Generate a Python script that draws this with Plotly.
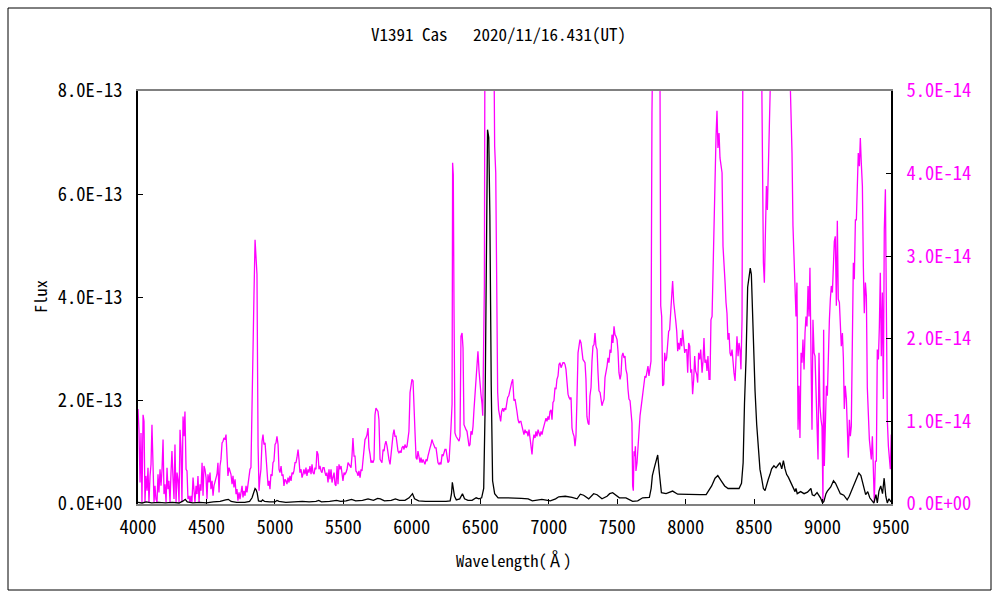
import plotly.graph_objects as go

# ---------------- data ----------------
# Magenta spectrum (right axis), wavelength in Angstrom, flux in units of 1e-14
wl_mag = [
    4000,4007,4015,4022,4029,4037,4044,4051,4058,4066,
    4073,4080,4088,4095,4102,4110,4117,4124,4131,4139,
    4146,4153,4161,4168,4175,4183,4190,4197,4205,4212,
    4219,4226,4234,4241,4248,4256,4263,4270,4278,4285,
    4292,4300,4307,4314,4321,4329,4336,4343,4351,4358,
    4365,4373,4380,4387,4394,4402,4409,4416,4424,4431,
    4438,4446,4453,4460,4468,4475,4482,4489,4497,4504,
    4511,4519,4526,4533,4541,4548,4555,4562,4570,4577,
    4584,4592,4599,4606,4614,4621,4628,4636,4643,4650,
    4657,4665,4672,
    4679,4687,4694,4701,4709,4716,4723,4730,4738,4745,
    4752,4760,4767,4774,4782,4789,4796,4803,4811,4818,
    4825,4833,4840,4847,4855,4862,4869,4877,4884,4891,
    4898,4906,4913,4920,4928,4935,4942,4950,4957,4964,
    4971,4979,4986,4993,5001,5008,5015,5023,5030,5037,
    5045,5052,5059,5066,5074,5081,5088,5096,5103,5110,
    5118,5125,5132,5139,5147,5154,5161,5169,5176,5183,
    5191,5198,5205,5212,5220,5227,5234,5242,5249,5256,
    5264,5271,5278,5286,5293,5300,5307,5315,5322,5329,
    5337,5344,5351,5359,
    5366,5373,5380,5388,5395,5402,5410,5417,5424,5432,
    5439,5446,5454,5461,5468,5475,5483,5490,5497,5505,
    5512,5519,5527,5534,5541,5549,5556,5563,5570,5578,
    5585,5592,5600,5607,5614,5622,5629,5636,5643,5651,
    5658,5665,5673,5680,5687,5695,5702,5709,5716,5724,
    5731,5738,5746,5753,5760,5768,5775,5782,5790,5797,
    5804,5811,5819,5826,5833,5841,5848,5855,5863,5870,
    5877,5885,5892,5899,5906,5914,5921,5928,5936,5943,
    5950,5958,5965,5972,5979,5987,5994,6001,6009,6016,
    6023,6031,6038,6045,
    6053,6060,6067,6074,6082,6089,6096,6104,6111,6118,
    6126,6133,6140,6147,6155,6162,6169,6177,6184,6191,
    6199,6206,6213,6221,6228,6235,6242,6250,6257,6264,
    6272,6279,6286,6294,6298,6303,6308,6315,6323,6330,
    6337,6345,6352,6359,6367,6374,6381,6389,6396,6403,
    6410,6418,6425,6432,6440,6447,6454,6462,6469,6476,
    6483,6491,6498,6505,6513,6518,6522,6530,6537,6545,
    6553,6560,6570,6580,6590,6598,6605,6613,6620,6627,
    6634,6642,6649,6656,6664,6671,6678,6686,6693,6700,
    6708,6715,6722,6729,6737,
    6746,6754,6761,6768,6776,6783,6790,6797,6805,6812,
    6819,6827,6834,6841,6849,6856,6863,6870,6878,6885,
    6892,6900,6907,6914,6922,6929,6936,6944,6951,6958,
    6965,6973,6980,6987,6995,7002,7009,7017,7024,7031,
    7038,7046,7053,7060,7068,7075,7082,7090,7097,7104,
    7112,7119,7126,7134,7141,7148,7155,7163,7170,7177,
    7185,7192,7199,7206,7214,7221,7228,7236,7243,7250,
    7258,7265,7272,7279,7287,7294,7301,7309,7316,7323,
    7331,7338,7345,7353,7360,7367,7375,7382,7389,7396,
    7404,7411,7418,7426,
    7433,7440,7448,7455,7462,7469,7477,7484,7491,7499,
    7506,7513,7521,7528,7535,7542,7550,7557,7564,7572,
    7579,7586,7594,7601,7608,7613,7618,7623,7628,7633,
    7637,7645,7652,7659,7667,7674,7681,7689,7696,7703,
    7710,7718,7725,7732,7740,7747,7754,7762,7769,7776,
    7784,7791,7798,7806,7813,7818,7825,7832,7840,7847,
    7854,7861,7869,7876,7883,7891,7898,7905,7913,7920,
    7927,7935,7942,7949,7956,7964,7971,7978,7986,7993,
    8000,8008,8015,8022,8030,8037,8044,8051,8059,8066,
    8073,8081,8088,8095,8103,8110,
    8120,8127,8134,8141,8149,8156,8163,8171,8178,8185,
    8193,8200,8207,8214,8222,8229,8236,8244,8251,8258,
    8266,8273,8280,8288,8295,8302,8309,8317,8324,8331,
    8339,8346,8353,8361,8368,8375,8383,8390,8397,8404,
    8412,8419,8427,8441,8455,8470,8485,8500,8515,8530,
    8545,8553,8560,8568,8575,8582,8590,8597,8604,8611,
    8619,8630,8660,8690,8720,8750,8762,8770,8777,8784,
    8792,8799,
    8806,8813,8821,8828,8835,8843,8850,8857,8865,8872,
    8879,8886,8894,8901,8908,8916,8923,8930,8938,8945,
    8952,8960,8967,8974,8981,8989,8996,9003,9008,9013,
    9020,9028,9035,9042,9050,9057,9064,9072,9079,9086,
    9093,9101,9108,9115,9123,9130,9137,9145,9152,9159,
    9166,9174,9181,9188,9196,9203,9210,9218,9225,9232,
    9240,9247,9254,9261,9269,9276,9283,9291,9298,9305,
    9313,9320,9327,9334,9342,9349,9356,9364,9371,9378,
    9386,9393,9400,9408,9415,9422,9429,9437,9444,9451,
    9459,9466,9473,9481,9488,9495,9502,
]
flux_mag_e14 = [
    1.15,0.90,0.26,0.86,0.02,1.08,1.00,0.02,0.34,0.16,
    0.44,0.02,0.34,0.48,0.96,0.38,0.02,0.22,0.06,0.02,
    0.36,0.14,0.42,0.22,0.40,0.78,0.12,0.24,0.02,0.44,
    0.18,0.28,0.02,0.38,0.64,0.30,0.06,0.72,0.02,0.38,
    0.30,0.02,0.90,0.68,0.02,1.06,0.82,1.12,0.42,0.40,
    0.06,0.10,0.02,0.10,0.02,0.32,0.10,0.02,0.22,0.12,
    0.34,0.02,0.24,0.16,0.50,0.10,0.46,0.42,0.32,0.06,
    0.36,0.26,0.38,0.18,0.28,0.10,0.22,0.26,0.30,0.36,
    0.50,0.14,0.46,0.54,0.74,0.76,0.80,0.78,0.84,0.62,
    0.34,0.44,0.40,
    0.36,0.24,0.34,0.20,0.30,0.12,0.18,0.04,0.14,0.06,
    0.12,0.22,0.08,0.16,0.10,0.22,0.14,0.24,0.38,0.42,
    0.44,1.29,2.21,2.52,3.20,2.86,2.78,0.70,0.16,0.32,
    0.42,0.76,0.84,0.72,0.74,0.58,0.36,0.22,0.28,0.18,
    0.36,0.34,0.50,0.52,0.72,0.74,0.82,0.72,0.42,0.38,
    0.46,0.34,0.36,0.22,0.30,0.28,0.24,0.32,0.26,0.34,
    0.28,0.38,0.36,0.40,0.50,0.50,0.56,0.66,0.54,0.38,
    0.42,0.32,0.36,0.42,0.36,0.44,0.34,0.42,0.38,0.46,
    0.36,0.48,0.38,0.36,0.44,0.42,0.64,0.60,0.42,0.46,
    0.40,0.38,0.44,0.44,
    0.38,0.34,0.38,0.26,0.42,0.30,0.42,0.26,0.32,0.38,
    0.24,0.22,0.46,0.24,0.48,0.42,0.46,0.38,0.28,0.38,
    0.36,0.38,0.42,0.50,0.48,0.46,0.44,0.58,0.80,0.58,
    0.58,0.40,0.38,0.34,0.40,0.32,0.42,0.40,0.54,0.64,
    0.78,0.80,0.84,0.92,0.68,0.60,0.50,0.52,0.50,0.54,
    1.08,1.16,1.14,1.12,1.02,0.54,0.52,0.50,0.66,0.64,
    0.72,0.76,0.70,0.58,0.54,0.48,0.62,0.76,0.84,0.90,
    0.82,0.82,0.68,0.64,0.62,0.64,0.62,0.68,0.70,0.66,
    0.72,0.68,0.70,0.84,0.88,1.35,1.41,1.51,1.49,1.00,
    0.88,0.56,0.54,0.64,
    0.54,0.50,0.56,0.50,0.54,0.50,0.48,0.54,0.52,0.58,
    0.62,0.68,0.72,0.78,0.74,0.70,0.68,0.68,0.58,0.50,
    0.48,0.50,0.48,0.60,0.58,0.62,0.66,0.66,0.60,0.50,
    0.52,0.68,0.92,1.21,4.13,3.99,2.40,0.86,0.82,0.80,
    0.78,0.76,0.82,2.03,2.07,1.89,0.96,0.92,0.90,0.88,
    0.78,0.70,0.72,0.88,0.84,0.94,1.14,1.31,1.57,1.67,
    1.85,1.61,1.41,1.33,1.21,1.07,1.59,2.64,8.0,30.0,
    70.0,70.0,50.0,25.0,10.0,6.0,4.33,4.01,2.44,1.35,
    1.14,1.08,1.00,1.12,1.16,1.12,1.16,1.14,1.21,1.29,
    1.31,1.37,1.41,1.47,1.51,
    1.25,1.27,1.16,1.12,1.02,0.98,1.00,1.00,0.94,0.86,
    0.84,0.90,0.86,0.88,0.82,0.90,0.78,0.72,0.60,0.76,
    0.84,0.80,0.88,0.82,0.90,0.86,0.82,0.88,0.84,0.90,
    0.94,0.98,1.04,1.00,1.06,1.02,1.12,1.14,1.02,1.23,
    1.25,1.41,1.39,1.51,1.55,1.69,1.71,1.65,1.69,1.71,
    1.71,1.69,1.63,1.45,1.33,1.29,1.27,1.29,0.92,0.86,
    0.82,0.70,0.82,1.25,1.83,1.91,1.99,1.95,1.83,1.75,
    1.73,1.71,1.51,1.06,0.98,0.96,1.31,1.41,1.73,1.91,
    1.93,2.07,1.91,1.87,1.59,1.37,1.35,1.29,1.19,1.23,
    1.27,1.53,1.59,1.67,
    1.77,1.71,1.87,1.83,2.05,1.95,2.15,2.05,2.03,1.99,
    1.85,1.59,1.51,1.57,1.79,1.83,1.77,1.79,1.63,1.57,
    1.39,1.27,1.25,1.08,0.98,0.22,0.16,0.64,0.58,0.70,
    0.40,0.50,0.70,0.86,1.07,1.16,1.27,1.39,1.45,1.55,
    1.53,1.59,1.67,1.55,1.67,1.73,4.74,6.5,8.0,9.0,
    9.0,8.0,7.0,6.0,5.0,2.40,2.27,1.43,1.45,1.83,
    1.73,1.77,2.03,2.09,2.11,2.38,2.48,2.70,2.44,2.36,
    2.23,2.09,1.85,1.95,1.87,2.01,1.91,2.11,1.99,1.83,
    1.87,1.87,1.59,1.95,1.91,1.59,1.63,1.33,1.51,1.79,
    1.61,1.57,1.47,1.83,1.75,1.87,
    1.59,1.73,2.01,1.71,1.75,1.61,1.79,1.51,1.51,2.23,
    2.27,2.96,3.65,3.85,4.45,4.76,4.31,4.49,4.19,4.11,
    4.01,3.12,2.80,2.68,2.44,2.31,1.99,2.07,1.83,1.79,
    1.87,1.69,1.59,1.49,1.87,2.03,1.79,1.95,1.87,1.63,
    2.23,5.5,10.0,25.0,40.0,46.0,40.0,25.0,15.0,10.0,
    7.0,5.5,3.89,2.92,2.68,3.44,3.85,3.56,4.13,4.49,
    5.5,7.0,8.0,8.0,8.0,6.0,5.2,4.57,4.25,3.37,
    2.96,2.84,
    2.27,2.68,0.90,1.43,0.80,1.83,1.71,1.99,1.63,2.07,
    2.27,2.15,2.64,2.27,2.86,1.75,0.90,2.23,1.83,1.79,
    1.35,1.02,0.54,1.83,1.19,1.02,0.94,0.02,2.11,0.46,
    0.90,1.43,1.31,1.95,2.23,2.48,2.64,2.56,3.04,3.18,
    3.24,2.40,3.43,2.48,2.44,2.23,1.91,2.07,1.77,1.15,
    1.43,1.27,0.98,0.56,1.02,0.82,0.94,2.07,2.92,2.72,
    3.44,3.44,4.07,4.25,4.09,4.43,4.13,3.85,2.88,2.31,
    2.68,2.52,1.41,1.02,0.78,0.66,0.54,0.82,0.30,0.02,
    0.52,0.52,1.87,1.75,2.15,2.80,1.79,2.56,1.27,3.32,
    3.81,1.75,1.02,0.70,0.54,0.42,0.84,
]

# Black spectrum (left axis), wavelength in Angstrom, flux in units of 1e-13
wl_blk = [
    4000,4030,4060,4100,4150,4200,4250,4300,4330,4345,
    4360,4400,4450,4500,4550,4600,4640,4660,4680,4720,
    4780,4815,4833,4845,4855,4862,4870,4880,4900,4910,
    4925,4960,5000,5015,5030,5080,5150,5200,5250,5300,
    5320,5340,5400,5450,5480,5520,5560,5590,5640,5680,
    5720,5750,5770,5800,5850,5880,5910,5950,5980,5995,
    6005,6020,6050,6100,6150,6200,6250,6280,6290,6296,
    6302,6312,6325,6350,6370,6385,6410,6440,6470,6490,
    6510,6525,6535,6545,6553,6562,6570,6580,6590,6605,
    6630,6680,6740,6800,6850,6880,6950,7012,7050,7073,
    7121,7170,7207,7231,7255,7292,7328,7353,7389,7426,
    7445,7467,7516,7564,7613,7650,7686,7735,7748,7757,
    7771,7788,7796,7808,7823,7857,7905,7942,8027,8105,
    8150,8190,8215,8235,8260,8285,8310,8350,8390,8408,
    8420,8430,8441,8453,8465,8472,8480,8487,8495,8507,
    8519,8531,8543,8555,8568,8580,8592,8604,8616,8628,
    8645,8660,8677,8689,8702,8714,8726,8738,8750,8762,
    8775,8787,8799,8806,8815,8840,8865,8890,8915,8925,
    8940,8960,8985,9000,9010,9025,9035,9060,9080,9095,
    9110,9130,9155,9180,9195,9215,9230,9255,9265,9280,
    9290,9303,9315,9330,9345,9365,9375,9390,9400,9412,
    9425,9438,9450,9462,9473,9485,9500,
]
flux_blk_e13 = [
    0.03,0.02,0.04,0.02,0.03,0.02,0.03,0.02,0.06,0.09,
    0.04,0.02,0.03,0.02,0.04,0.05,0.08,0.09,0.05,0.03,
    0.03,0.05,0.12,0.22,0.30,0.28,0.22,0.06,0.05,0.08,
    0.05,0.04,0.04,0.07,0.05,0.03,0.04,0.05,0.04,0.05,
    0.07,0.04,0.05,0.07,0.05,0.06,0.09,0.06,0.07,0.10,
    0.07,0.11,0.10,0.06,0.07,0.10,0.07,0.07,0.12,0.18,
    0.20,0.10,0.06,0.05,0.05,0.04,0.05,0.06,0.20,0.42,
    0.30,0.15,0.08,0.10,0.20,0.10,0.07,0.07,0.12,0.10,
    0.12,0.30,1.80,4.50,7.25,7.10,5.60,2.30,0.45,0.20,
    0.12,0.12,0.12,0.11,0.10,0.06,0.09,0.06,0.10,0.14,
    0.15,0.13,0.10,0.19,0.17,0.10,0.20,0.18,0.10,0.15,
    0.20,0.22,0.12,0.12,0.05,0.06,0.12,0.13,0.30,0.55,
    0.70,0.90,0.95,0.60,0.22,0.20,0.25,0.19,0.18,0.18,
    0.18,0.35,0.50,0.55,0.45,0.35,0.30,0.30,0.30,0.40,
    0.80,1.96,2.80,4.20,4.45,4.57,4.45,3.90,2.87,2.19,
    1.54,1.06,0.67,0.50,0.30,0.26,0.40,0.48,0.57,0.68,
    0.74,0.70,0.76,0.80,0.68,0.84,0.68,0.57,0.52,0.45,
    0.36,0.30,0.24,0.30,0.20,0.24,0.20,0.23,0.30,0.18,
    0.16,0.22,0.12,0.02,0.05,0.20,0.25,0.33,0.45,0.40,
    0.30,0.20,0.17,0.08,0.15,0.28,0.40,0.55,0.60,0.55,
    0.45,0.33,0.18,0.24,0.12,0.05,0.02,0.18,0.02,0.25,
    0.35,0.20,0.50,0.15,0.02,0.10,0.04,
]

x_ticks = [4000, 4500, 5000, 5500, 6000, 6500, 7000, 7500, 8000, 8500, 9000, 9500]
y_left_ticks = [0, 2e-13, 4e-13, 6e-13, 8e-13]
y_left_labels = ["0.0E+00", "2.0E-13", "4.0E-13", "6.0E-13", "8.0E-13"]
y_right_ticks = [0, 1e-14, 2e-14, 3e-14, 4e-14, 5e-14]
y_right_labels = ["0.0E+00", "1.0E-14", "2.0E-14", "3.0E-14", "4.0E-14", "5.0E-14"]

title_text = "V1391 Cas\u3000\u00a02020/11/16.431(UT)"
x_title = "Wavelength(\u212b)"
y_title = "Flux"

if len(wl_mag) != len(flux_mag_e14) or len(wl_blk) != len(flux_blk_e13):
    raise ValueError(f"length mismatch {len(wl_mag)} {len(flux_mag_e14)} {len(wl_blk)} {len(flux_blk_e13)}")

# ---------------- figure ----------------
FONT = "Noto Sans Mono CJK JP, Noto Sans CJK JP, DejaVu Sans Mono, monospace"
MAGENTA = "#FF00FF"

fig = go.Figure()
fig.add_trace(go.Scatter(
    x=wl_mag, y=[v * 1e-14 for v in flux_mag_e14], yaxis="y",
    mode="lines", line=dict(color=MAGENTA, width=1.3), showlegend=False,
    hoverinfo="skip"))
fig.add_trace(go.Scatter(
    x=wl_blk, y=[v * 1e-13 for v in flux_blk_e13], yaxis="y2",
    mode="lines", line=dict(color="black", width=1.3), showlegend=False,
    hoverinfo="skip"))

L, R, T, B = 138, 109, 91, 96
PW, PH = 1000 - L - R, 600 - T - B

def px(xp):
    return (xp - L) / PW

def py(yp):
    return (600 - B - yp) / PH

fig.update_layout(
    width=1000, height=600, autosize=False,
    margin=dict(l=L, r=R, t=T, b=B, pad=0),
    paper_bgcolor="white", plot_bgcolor="white",
    font=dict(family=FONT, size=16, color="black"),
    xaxis=dict(
        range=[4000, 9500], tickmode="array", tickvals=x_ticks,
        ticktext=[str(t) for t in x_ticks],
        ticks="inside", ticklen=5, tickcolor="black", tickwidth=1,
        showline=True, linecolor="#808080", linewidth=2, mirror=True,
        showgrid=False, zeroline=False, ticklabelstandoff=6,
        tickfont=dict(family=FONT, size=18.5, color="black"),
    ),
    yaxis=dict(
        side="right", range=[0, 5e-14], tickmode="array",
        tickvals=y_right_ticks, ticktext=y_right_labels,
        ticks="inside", ticklen=5, tickcolor="black", tickwidth=1,
        showline=True, linecolor="black", linewidth=1.5,
        showgrid=False, zeroline=False, ticklabelstandoff=10,
        tickfont=dict(family=FONT, size=18.5, color=MAGENTA),
    ),
    yaxis2=dict(
        overlaying="y", side="left", range=[0, 8e-13], tickmode="array",
        tickvals=y_left_ticks, ticktext=y_left_labels,
        ticks="inside", ticklen=5, tickcolor="black", tickwidth=1,
        showline=True, linecolor="black", linewidth=1.5,
        showgrid=False, zeroline=False, ticklabelstandoff=10,
        tickfont=dict(family=FONT, size=18.5, color="black"),
    ),
    shapes=[dict(type="rect", xref="paper", yref="paper",
                 x0=px(8), x1=px(991), y0=py(590), y1=py(8),
                 line=dict(color="black", width=1), fillcolor="rgba(0,0,0,0)",
                 layer="below")],
    annotations=[
        dict(text=title_text, xref="paper", yref="paper", x=px(498), y=py(34),
             xanchor="center", yanchor="middle", showarrow=False,
             font=dict(family=FONT, size=17, color="black")),
        dict(text=x_title, xref="paper", yref="paper", x=px(514), y=py(560),
             xanchor="center", yanchor="middle", showarrow=False,
             font=dict(family=FONT, size=16.5, color="black")),
        dict(text=y_title, xref="paper", yref="paper", x=px(40), y=py(297),
             xanchor="center", yanchor="middle", showarrow=False, textangle=-90,
             font=dict(family=FONT, size=16.5, color="black")),
    ],
)

fig.write_html("out.html", config={"displayModeBar": False},
               post_script="document.body.style.margin='0';")
